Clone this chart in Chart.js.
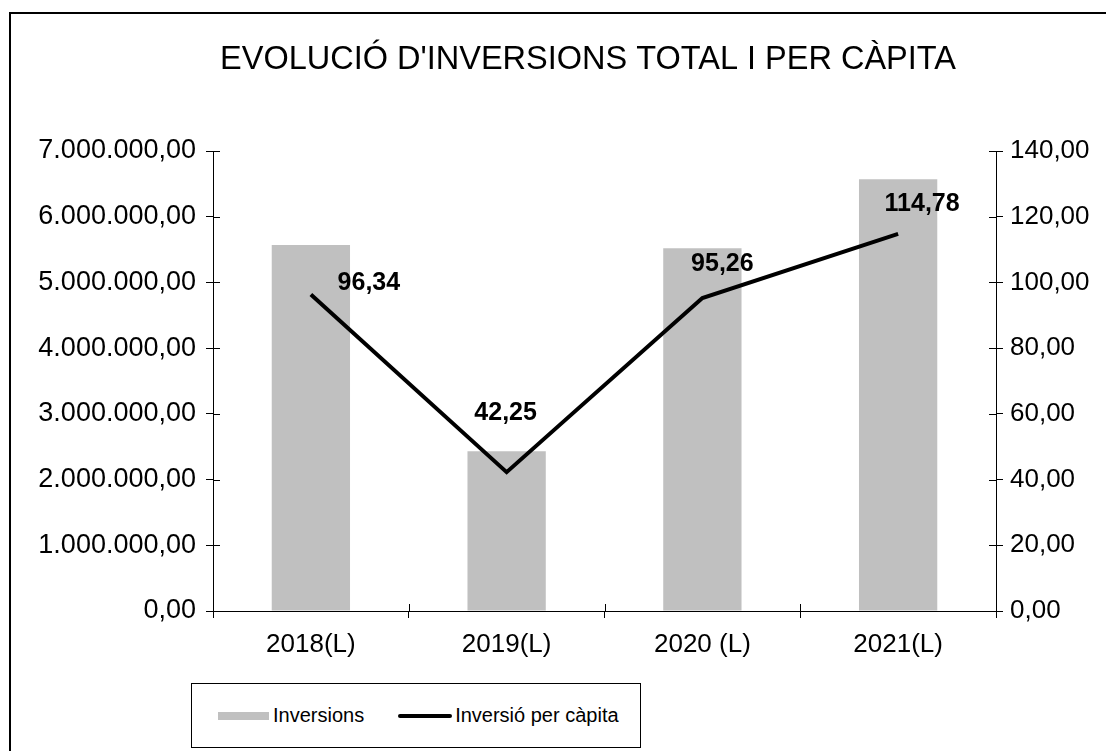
<!DOCTYPE html>
<html>
<head>
<meta charset="utf-8">
<script src="https://cdn.jsdelivr.net/npm/chart.js@4"></script>
<style>
  body { margin: 0; width: 1106px; height: 751px; overflow: hidden; background: #fff; font-family: "Liberation Sans", Arial, sans-serif; }
  .frame { position: absolute; left: 9px; top: 12px; width: 1154px; height: 737px; border: 2px solid #000; }
  .legend { position: absolute; left: 191px; top: 683px; width: 448px; height: 63px; border: 1px solid #000; background: #fff;
            display: flex; align-items: center; font-size: 20px; color: #000; }
  .legend .sw { display: inline-block; }
</style>
</head>
<body>
<div class="frame"><canvas id="chart"></canvas></div>
<div class="legend" id="legend"></div>
<script>
const title = "EVOLUCIÓ D'INVERSIONS TOTAL I PER CÀPITA";
const categories = ["2018(L)", "2019(L)", "2020 (L)", "2021(L)"];
const inversions = [5570000, 2430000, 5520000, 6570000];
const perCapita = [96.34, 42.25, 95.26, 114.78];
const seriesNames = ["Inversions", "Inversió per càpita"];

// label offsets from each line point (px)
const labelOffsets = [[58, -11], [-1, -59], [20, -34], [24, -30]];

Chart.defaults.font.family = "'Liberation Sans', Arial, sans-serif";
Chart.defaults.color = "#000";

function fmt(v) {
  const parts = v.toFixed(2).split(".");
  return parts[0].replace(/\B(?=(\d{3})+(?!\d))/g, ".") + "," + parts[1];
}

// excel-style cross tick marks (inner half, outer half comes from grid)
const crossTicks = {
  id: "crossTicks",
  afterDraw(chart) {
    const ctx = chart.ctx;
    const { x, y, y1 } = chart.scales;
    ctx.save();
    ctx.strokeStyle = "#000";
    ctx.lineWidth = 1;
    ctx.beginPath();
    y.ticks.forEach((t, i) => {
      const py = Math.round(y.getPixelForTick(i)) + 0.5;
      ctx.moveTo(y.right, py);
      ctx.lineTo(y.right + 7, py);
    });
    y1.ticks.forEach((t, i) => {
      const py = Math.round(y1.getPixelForTick(i)) + 0.5;
      ctx.moveTo(y1.left - 7, py);
      ctx.lineTo(y1.left, py);
    });
    const w = (x.right - x.left) / x.ticks.length;
    for (let i = 0; i <= x.ticks.length; i++) {
      const px = Math.round(x.left + i * w) + 0.5;
      ctx.moveTo(px, x.top - 7);
      ctx.lineTo(px, x.top);
    }
    ctx.stroke();
    ctx.restore();
  }
};

const lineLabels = {
  id: "lineLabels",
  afterDatasetsDraw(chart) {
    const ctx = chart.ctx;
    const meta = chart.getDatasetMeta(0);
    ctx.save();
    ctx.font = "bold 25px 'Liberation Sans', Arial, sans-serif";
    ctx.fillStyle = "#000";
    ctx.textAlign = "center";
    ctx.textBaseline = "middle";
    meta.data.forEach((pt, i) => {
      const off = labelOffsets[i];
      ctx.fillText(fmt(perCapita[i]), pt.x + off[0], pt.y + off[1]);
    });
    ctx.restore();
  }
};

const chart = new Chart(document.getElementById("chart"), {
  data: {
    labels: categories,
    datasets: [
      {
        type: "line",
        label: seriesNames[1],
        data: perCapita,
        yAxisID: "y1",
        borderColor: "#000",
        borderWidth: 4,
        pointRadius: 0,
        tension: 0,
        order: 1,
      },
      {
        type: "bar",
        label: seriesNames[0],
        data: inversions,
        yAxisID: "y",
        backgroundColor: "#C0C0C0",
        barPercentage: 0.4,
        categoryPercentage: 1.0,
        order: 2,
      },
    ],
  },
  options: {
    responsive: true,
    maintainAspectRatio: false,
    animation: false,
    layout: { padding: 0 },
    plugins: {
      legend: { display: false },
      tooltip: { enabled: false },
      title: {
        display: true,
        text: title,
        color: "#000",
        font: { size: 32.5, weight: "normal" },
        padding: { top: 27, bottom: 71 },
      },
    },
    scales: {
      x: {
        grid: { drawOnChartArea: false, color: "#000", tickLength: 7 },
        border: { color: "#000" },
        ticks: { font: { size: 26 }, padding: 11, maxRotation: 0 },
        afterFit: (axis) => { axis.height = 140; },
      },
      y: {
        position: "left",
        min: 0,
        max: 7000000,
        grid: { drawOnChartArea: false, color: "#000", tickLength: 7 },
        border: { color: "#000" },
        ticks: { stepSize: 1000000, font: { size: 27 }, padding: 10, callback: (v) => fmt(v) },
        afterFit: (axis) => { axis.width = 202; },
      },
      y1: {
        position: "right",
        min: 0,
        max: 140,
        grid: { drawOnChartArea: false, color: "#000", tickLength: 7 },
        border: { color: "#000" },
        ticks: { stepSize: 20, font: { size: 26 }, padding: 7, callback: (v) => fmt(v) },
        afterFit: (axis) => { axis.width = 169; },
      },
    },
  },
  plugins: [crossTicks, lineLabels],
});

// legend box, built from the datasets
const legend = document.getElementById("legend");
const bar = chart.data.datasets[1];
const line = chart.data.datasets[0];
legend.innerHTML =
  '<span class="sw" style="margin-left:26px;width:51px;height:8px;background:' + bar.backgroundColor + '"></span>' +
  '<span style="margin-left:4px">' + bar.label + '</span>' +
  '<span class="sw" style="margin-left:34px;width:54px;height:4px;border-radius:2px;background:' + line.borderColor + '"></span>' +
  '<span style="margin-left:3px">' + line.label + '</span>';
</script>
</body>
</html>
